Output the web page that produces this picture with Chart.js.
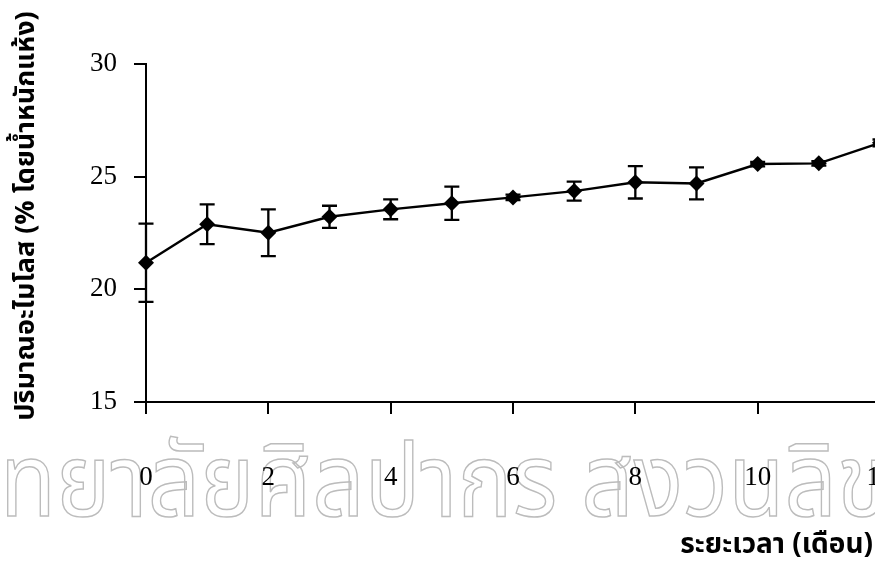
<!DOCTYPE html>
<html>
<head>
<meta charset="utf-8">
<script src="https://cdn.jsdelivr.net/npm/chart.js@4.4.1/dist/chart.umd.min.js"></script>
<style>
    html, body { margin: 0; padding: 0; background: #fff; overflow: hidden; }
    #wrap { position: relative; width: 900px; height: 577px; }
</style>
</head>
<body>
<div id="wrap"><canvas id="amylose-chart" width="900" height="577"></canvas></div>
<script>
const months = [0, 1, 2, 3, 4, 5, 6, 7, 8, 9, 10, 11, 12];
const amylose = [21.18, 22.89, 22.51, 23.22, 23.55, 23.82, 24.08, 24.36, 24.75, 24.70, 25.56, 25.59, 26.5];
const amyloseSd = [1.74, 0.88, 1.04, 0.49, 0.44, 0.74, 0.12, 0.42, 0.72, 0.71, 0.1, 0.1, 0.15];
const yTitle = "ปริมาณอะไมโลส (% โดยน้ำหนักแห้ง)";
const xTitle = "ระยะเวลา (เดือน)";
const watermark = "ทยาลัยศิลปากร สงวนลิขสิทธิ์";

const tickFont = { family: "'Liberation Serif', 'Times New Roman', serif", size: 27 };
const thaiFont = "'Noto Sans Thai', 'Tahoma', 'DejaVu Sans', sans-serif";

// outlined grey text behind the plot
const watermarkPlugin = {
    id: "watermark",
    beforeDraw(chart) {
        const ctx = chart.ctx;
        ctx.save();
        ctx.font = `102px ${thaiFont}`;
        ctx.textBaseline = "alphabetic";
        ctx.strokeStyle = "#bcbcbc";
        ctx.lineWidth = 1.5;
        ctx.translate(0, 516);
        ctx.scale(0.9, 1);
        ctx.strokeText(watermark, 0, 0);
        ctx.restore();
    }
};

// mean ± SD whiskers with caps
const errorBarPlugin = {
    id: "errorBars",
    afterDatasetsDraw(chart) {
        const { ctx, scales: { x, y } } = chart;
        ctx.save();
        ctx.strokeStyle = "#000";
        ctx.lineWidth = 2.3;
        months.forEach((m, i) => {
            const px = x.getPixelForValue(m);
            const top = y.getPixelForValue(amylose[i] + amyloseSd[i]);
            const bottom = y.getPixelForValue(amylose[i] - amyloseSd[i]);
            ctx.beginPath();
            ctx.moveTo(px, top);
            ctx.lineTo(px, bottom);
            ctx.moveTo(px - 7.5, top);
            ctx.lineTo(px + 7.5, top);
            ctx.moveTo(px - 7.5, bottom);
            ctx.lineTo(px + 7.5, bottom);
            ctx.stroke();
        });
        ctx.restore();
    }
};

// axis titles
const axisTitlePlugin = {
    id: "axisTitles",
    afterDraw(chart) {
        const ctx = chart.ctx;
        ctx.save();
        ctx.fillStyle = "#000";
        ctx.font = `bold 27px ${thaiFont}`;
        ctx.textAlign = "center";
        ctx.textBaseline = "middle";
        ctx.translate(29, 216);
        ctx.rotate(-Math.PI / 2);
        ctx.fillText(yTitle, 0, 0);
        ctx.restore();

        ctx.save();
        ctx.fillStyle = "#000";
        ctx.font = `bold 28px ${thaiFont}`;
        ctx.textAlign = "right";
        ctx.textBaseline = "alphabetic";
        ctx.fillText(xTitle, 873, 553);
        ctx.restore();
    }
};

new Chart(document.querySelector("#amylose-chart"), {
    type: "line",
    data: {
        labels: months,
        datasets: [{
            data: months.map((m, i) => ({ x: m, y: amylose[i] })),
            borderColor: "#000",
            borderWidth: 2.4,
            pointStyle: "rectRot",
            pointRadius: 8,
            pointBackgroundColor: "#000",
            pointBorderColor: "#000",
            pointBorderWidth: 0,
            tension: 0,
            clip: false
        }]
    },
    options: {
        responsive: false,
        animation: false,
        devicePixelRatio: 1,
        layout: { padding: { top: 64, right: 20, left: 0, bottom: 0 } },
        plugins: { legend: { display: false }, tooltip: { enabled: false } },
        scales: {
            x: {
                type: "linear",
                min: 0,
                max: 12,
                afterFit: (scale) => {
                    scale.height = 175;
                    // the big label gap should not eat into the plot width
                    scale.paddingLeft = 0;
                    scale.paddingRight = 0;
                },
                border: { color: "#000", width: 2 },
                grid: { drawOnChartArea: false, drawTicks: true, tickLength: 12, color: "#000", lineWidth: 2 },
                ticks: { stepSize: 2, color: "#000", font: tickFont, padding: 48, maxRotation: 0 }
            },
            y: {
                min: 15,
                max: 30,
                afterFit: (scale) => { scale.width = 146; },
                border: { color: "#000", width: 2 },
                grid: { drawOnChartArea: false, drawTicks: true, tickLength: 12, color: "#000", lineWidth: 2 },
                ticks: { stepSize: 5, color: "#000", font: tickFont, padding: 17 }
            }
        }
    },
    plugins: [watermarkPlugin, errorBarPlugin, axisTitlePlugin]
});
</script>
</body>
</html>
